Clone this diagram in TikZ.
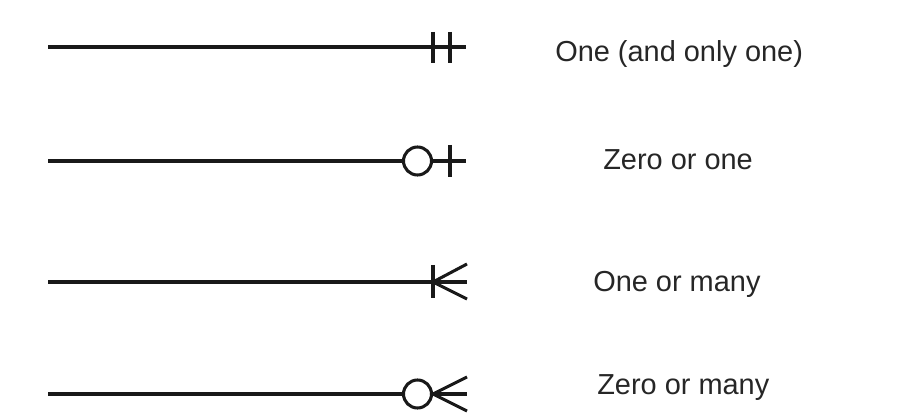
\documentclass[tikz,border=0pt]{standalone}
\usepackage{fontspec}
\setmainfont{Liberation Sans}
\begin{document}
\begin{tikzpicture}[x=0.75pt,y=-0.75pt,
  rel/.style={line width=2.3pt,black!90},
  lbl/.style={anchor=base west,inner sep=0pt,font=\fontsize{21.7pt}{25pt}\selectfont,text=black!85},
  ring/.style={circle,draw=black!90,line width=2.3pt,fill=white,minimum size=21pt,inner sep=0pt}]
\useasboundingbox (0,0) rectangle (904,420);
% Row 1: one and only one
\coordinate (s1) at (48,47);
\coordinate (e1) at (466,47);
\draw[rel] (s1) -- (e1);
\draw[rel] (433,32) -- (433,63);
\draw[rel] (450,32) -- (450,63);
\node[lbl] (t1) at (555,62) {One (and only one)};
% Row 2: zero or one
\coordinate (s2) at (48,161);
\coordinate (e2) at (466,161);
\node[ring] (c2) at (417.5,161) {};
\draw[rel] (s2) -- (c2.west);
\draw[rel] (c2.east) -- (e2);
\draw[rel] (450,145) -- (450,177);
\node[lbl] (t2) at (603,170) {Zero or one};
% Row 3: one or many
\coordinate (s3) at (48,282);
\coordinate (e3) at (467,282);
\coordinate (a3) at (433,282);
\draw[rel] (s3) -- (e3);
\draw[rel] (433,265) -- (433,298);
\draw[rel] (467,264) -- (a3) -- (467,299);
\node[lbl] (t3) at (593,292) {One or many};
% Row 4: zero or many
\coordinate (s4) at (48,394);
\coordinate (e4) at (467,394);
\node[ring] (c4) at (417.5,394) {};
\draw[rel] (s4) -- (c4.west);
\draw[rel] (c4.east) -- (e4);
\draw[rel] (467,377) -- (c4.east) -- (467,411);
\node[lbl] (t4) at (597,395) {Zero or many};
\end{tikzpicture}
\end{document}
